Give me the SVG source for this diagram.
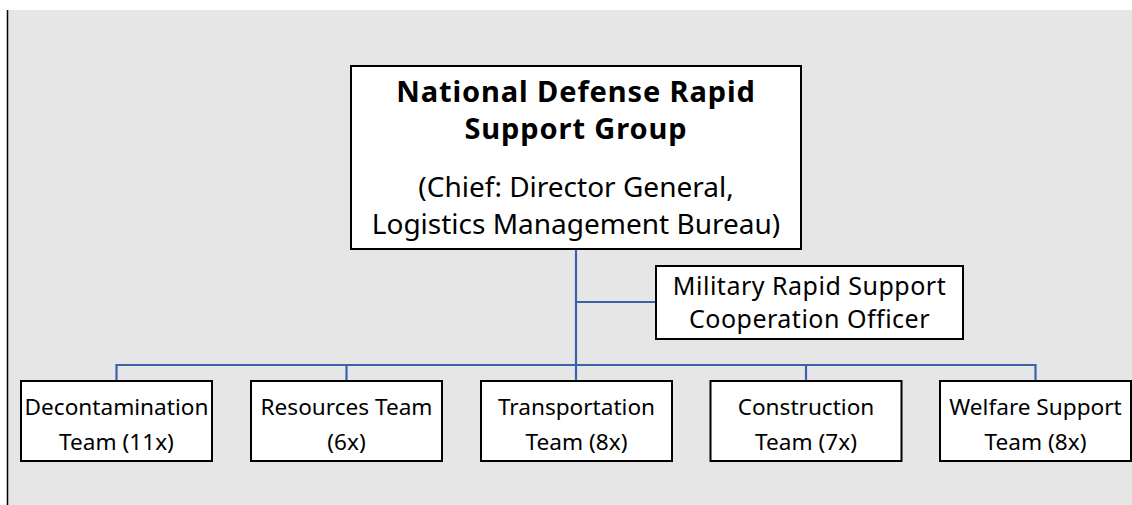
<svg xmlns="http://www.w3.org/2000/svg" width="1132" height="505" viewBox="0 0 1132 505">
<style>
.box{fill:#ffffff;stroke:#000000;stroke-width:2}
.t{font-family:"Noto Sans","Open Sans","Liberation Sans",sans-serif;fill:#000000;text-anchor:middle}
.b{font-weight:bold;font-size:29px;letter-spacing:0.9px}
.s{font-size:28px}
.o{font-size:25px;letter-spacing:0.5px}
.m{font-size:22.6px}
.c{fill:none;stroke:#3c62aa;stroke-width:2.2}
</style>
<rect x="0" y="0" width="1132" height="505" fill="#ffffff"/>
<rect x="8" y="10" width="1124" height="495" fill="#e6e6e6"/>
<line x1="7.5" y1="10" x2="7.5" y2="505" stroke="#000000" stroke-width="1.5"/>
<g id="connectors">
<path class="c" d="M576 249 V380"/>
<path class="c" d="M576 302 H656"/>
<path class="c" d="M116.5 381 V365 H1035.5 V381"/>
<path class="c" d="M346.5 365 V381"/>
<path class="c" d="M806 365 V381"/>
</g>
<g id="n-main">
<rect class="box" x="351" y="66" width="450" height="183"/>
<text class="t b" x="576" y="101.5">National Defense Rapid</text>
<text class="t b" x="576" y="139">Support Group</text>
<text class="t s" x="576" y="197">(Chief: Director General,</text>
<text class="t s" x="576" y="234">Logistics Management Bureau)</text>
</g>
<g id="n-officer">
<rect class="box" x="656" y="266" width="307" height="73"/>
<text class="t o" x="809.5" y="295">Military Rapid Support</text>
<text class="t o" x="809.5" y="327.5">Cooperation Officer</text>
</g>
<g id="n-decon">
<rect class="box" x="21" y="381" width="191" height="80"/>
<text class="t m" x="116.5" y="415">Decontamination</text>
<text class="t m" x="116.5" y="450">Team (11x)</text>
</g>
<g id="n-resources">
<rect class="box" x="251" y="381" width="191" height="80"/>
<text class="t m" x="346.5" y="415">Resources Team</text>
<text class="t m" x="346.5" y="450">(6x)</text>
</g>
<g id="n-transport">
<rect class="box" x="481" y="381" width="191" height="80"/>
<text class="t m" x="576.5" y="415">Transportation</text>
<text class="t m" x="576.5" y="450">Team (8x)</text>
</g>
<g id="n-construction">
<rect class="box" x="710.5" y="381" width="191" height="80"/>
<text class="t m" x="806" y="415">Construction</text>
<text class="t m" x="806" y="450">Team (7x)</text>
</g>
<g id="n-welfare">
<rect class="box" x="940" y="381" width="191" height="80"/>
<text class="t m" x="1035.5" y="415">Welfare Support</text>
<text class="t m" x="1035.5" y="450">Team (8x)</text>
</g>
</svg>
